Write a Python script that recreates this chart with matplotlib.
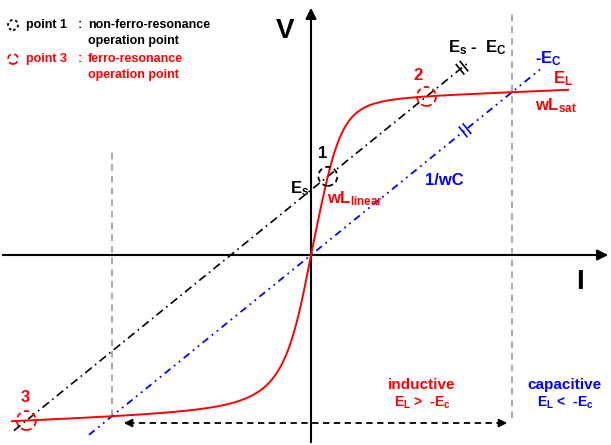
import numpy as np
import matplotlib.pyplot as plt
from matplotlib.patches import Circle

plt.rcParams['font.family'] = ['Liberation Sans Narrow', 'Liberation Sans', 'DejaVu Sans']
plt.rcParams['font.weight'] = 'bold'
plt.rcParams['mathtext.default'] = 'regular'

RED = '#ff0000'
BLUE = '#0000ff'
GRAY = '#999999'

# saturable inductor: E_L(I), knee then wL_sat slope
sat_level = 155.0
sat_slope = 0.04
knee_pos = 32.0     # I>0 side, sharper knee
knee_neg = 30.0     # I<0 side, softer knee
curve_range = [-299, 257]

# source and capacitor lines: E = Es + I/wC,  -Ec = I/wC
source_e = 65.0
cap_slope = 0.81
source_range = [-297, 156]
cap_range = [-222, 229]

legend_rows = ['point 1', 'point 3']
legend_desc = ['non-ferro-resonance', 'ferro-resonance']


def e_L(i):
    i = np.asarray(i, dtype=float)
    pos = sat_level * i / np.cbrt(knee_pos**3 + np.abs(i)**3)
    neg = sat_level * i / np.sqrt(knee_neg**2 + i**2)
    return np.where(i >= 0, pos, neg) + sat_slope * i


def roots(f, lo, hi):
    x = np.linspace(lo, hi, 20001)
    y = f(x)
    out = []
    for k in np.nonzero(np.sign(y[:-1]) != np.sign(y[1:]))[0]:
        out.append(x[k] - y[k] * (x[k + 1] - x[k]) / (y[k + 1] - y[k]))
    return out


fig = plt.figure(figsize=(6.11, 4.45), dpi=100)
ax = fig.add_axes([0, 0, 1, 1])
ax.set_xlim(-311, 300)
ax.set_ylim(-190, 255)
ax.axis('off')

# axes
ax.annotate('', xy=(300, 0), xytext=(-311, 0),
            arrowprops=dict(arrowstyle='-|>', color='k', lw=1.5, mutation_scale=16))
ax.annotate('', xy=(0, 250), xytext=(0, -190),
            arrowprops=dict(arrowstyle='-|>', color='k', lw=1.5, mutation_scale=16))
ax.text(-26, 224, 'V', fontsize=20, ha='center', va='center')
ax.text(269, -27, 'I', fontsize=20, ha='center', va='center')

# curves
i = np.linspace(*curve_range, 800)
ax.plot(i, e_L(i), color=RED, lw=1.4, zorder=3)

i = np.array(source_range, dtype=float)
ax.plot(i, source_e + cap_slope * i, color='k', lw=1.2, ls=(0, (5, 2.5, 1, 2.5)), zorder=2)

i = np.array(cap_range, dtype=float)
ax.plot(i, cap_slope * i, color=BLUE, lw=1.3, ls=(0, (4, 2.5, 1, 2.5, 1, 2.5)), zorder=2)

# resonance boundary (E_L = -Ec) dashed verticals
bounds = [r for r in roots(lambda x: e_L(x) - cap_slope * x, -300, 300) if abs(r) > 1]
ax.plot([bounds[0]] * 2, [e_L(bounds[0]), 107], color=GRAY, lw=1.2, ls=(0, (4, 3)), zorder=1)
ax.plot([bounds[1]] * 2, [-163, 242], color=GRAY, lw=1.2, ls=(0, (4, 3)), zorder=1)

# operating points 1, 2, 3
ops = roots(lambda x: e_L(x) - (source_e + cap_slope * x), -299, 257)
op_colors = [RED, 'k', RED]
for x0, c in zip(ops, op_colors):
    ax.add_patch(Circle((x0, e_L(x0)), 9.5, fill=False, ec=c, lw=1.3,
                        ls=(0, (3, 2)), zorder=4))
ax.text(ops[0] - 1, e_L(ops[0]) + 23, '3', color=RED, fontsize=12, ha='center', va='center')
ax.text(ops[1] - 5, e_L(ops[1]) + 23, '1', color='k', fontsize=12, ha='center', va='center')
ax.text(ops[2] - 8, e_L(ops[2]) + 21, '2', color=RED, fontsize=12, ha='center', va='center')

# line labels (subscripts via mathtext in the text font)
lab = dict(fontsize=12, va='baseline')
ax.text(-21, 62, r'E$_s$', color='k', **lab)
ax.text(137, 203, r'E$_s$ -  E$_C$', color='k', **lab)
ax.text(224, 192, r'-E$_C$', color=BLUE, **lab)
ax.text(242, 172, r'E$_L$', color=RED, **lab)
ax.text(224, 145, r'wL$_{sat}$', color=RED, **lab)
ax.text(16, 52, r'wL$_{linear}$', color=RED, **lab)
ax.text(114, 70, '1/wC', color=BLUE, **lab)

# capacitor marks on the two lines
norm = np.hypot(1, cap_slope)
d = np.array([1, cap_slope]) / norm
n = np.array([-cap_slope, 1]) / norm
for xc, off, c in [(151, source_e, 'k'), (154, 0.0, BLUE)]:
    p = np.array([xc, off + cap_slope * xc])
    for s in (-2.5, 2.5):
        q = p + s * d
        ax.plot([q[0] - 6 * n[0], q[0] + 6 * n[0]], [q[1] - 6 * n[1], q[1] + 6 * n[1]],
                color=c, lw=1.2, zorder=5)

# inductive / capacitive region
ax.text(111, -130, 'inductive', color=RED, fontsize=11, ha='center', va='center')
ax.text(111, -152, r'E$_L$ >  -E$_c$', color=RED, fontsize=10, ha='center', va='baseline')
ax.text(253, -130, 'capacitive', color=BLUE, fontsize=11, ha='center', va='center')
ax.text(254, -152, r'E$_L$ <  -E$_c$', color=BLUE, fontsize=10, ha='center', va='baseline')

ax.plot([-183, 192], [-168, -168], color='k', lw=1.3, ls=(0, (3.5, 2.5)))
ax.annotate('', xy=(-190, -168), xytext=(-180, -168),
            arrowprops=dict(arrowstyle='-|>', color='k', lw=1.3, mutation_scale=12))
ax.annotate('', xy=(199, -168), xytext=(189, -168),
            arrowprops=dict(arrowstyle='-|>', color='k', lw=1.3, mutation_scale=12))

# legend
for k, (row, desc, c, ls) in enumerate(zip(legend_rows, legend_desc, ['k', RED],
                                           [(0, (1.5, 1.5)), (0, (3, 2))])):
    y = 230 - 34 * k
    ax.add_patch(Circle((-298, y), 5, fill=False, ec=c, lw=1.3, ls=ls))
    ax.text(-285, y, row, color=c, fontsize=9, va='center')
    ax.text(-233, y, ':', color=c, fontsize=9, va='center')
    ax.text(-223, y, desc, color=c, fontsize=9, va='center')
    ax.text(-223, y - 16, 'operation point', color=c, fontsize=9, va='center')

fig.savefig('out.png', dpi=100)
